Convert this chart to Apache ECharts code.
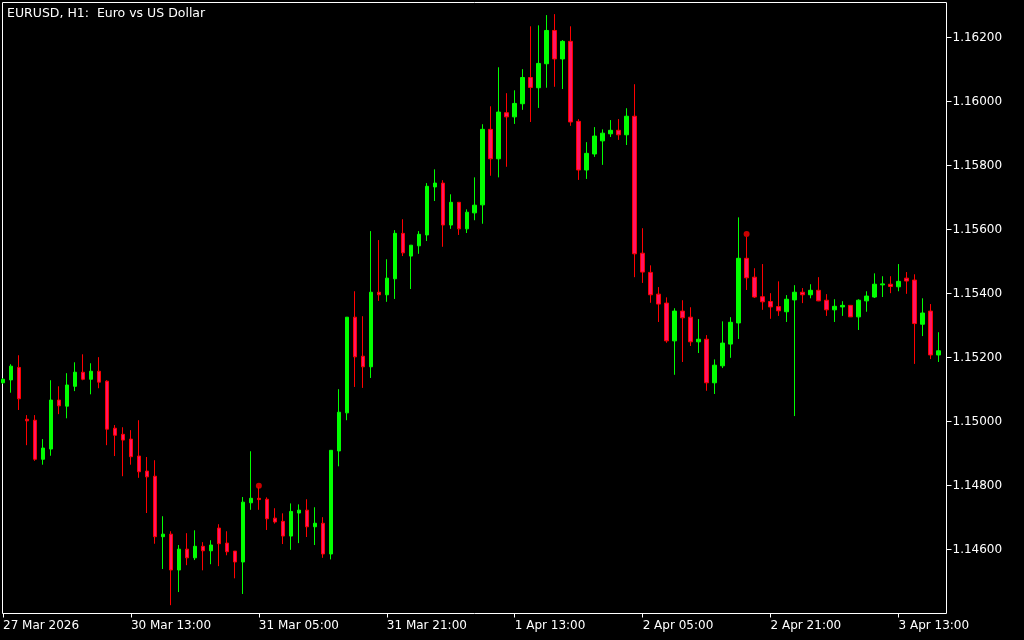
<!DOCTYPE html>
<html>
<head>
<meta charset="utf-8">
<title>EURUSD H1</title>
<script src="https://cdn.jsdelivr.net/npm/echarts@6.0.0/dist/echarts.min.js"></script>
<style>
  html, body { margin: 0; padding: 0; background: #000; }
  .kline { width: 1024px; height: 640px; }
</style>
</head>
<body>
<div class="kline"></div>
<script>
// EURUSD H1 bars, 27 Mar 2026 21:00 .. 3 Apr 2026 18:00
var opens = [
  1.15121, 1.15130, 1.15169, 1.15007, 1.15004, 1.14882, 1.14914, 1.15067, 1.15048, 1.15110,
  1.15154, 1.15132, 1.15157, 1.15126, 1.14979, 1.14960, 1.14945, 1.14892, 1.14845, 1.14829,
  1.14640, 1.14648, 1.14536, 1.14601, 1.14574, 1.14610, 1.14596, 1.14667, 1.14620, 1.14595,
  1.14561, 1.14746, 1.14760, 1.14757, 1.14698, 1.14688, 1.14642, 1.14714, 1.14723, 1.14671,
  1.14682, 1.14586, 1.14908, 1.15027, 1.15326, 1.15204, 1.15171, 1.15404, 1.15396, 1.15446,
  1.15588, 1.15517, 1.15549, 1.15583, 1.15733, 1.15745, 1.15614, 1.15685, 1.15602, 1.15652,
  1.15677, 1.15913, 1.15821, 1.15965, 1.15952, 1.15993, 1.16075, 1.16043, 1.16118, 1.16222,
  1.16133, 1.16188, 1.15938, 1.15786, 1.15836, 1.15877, 1.15899, 1.15910, 1.15896, 1.15954,
  1.15526, 1.15466, 1.15398, 1.15370, 1.15252, 1.15345, 1.15326, 1.15249, 1.15257, 1.15121,
  1.15174, 1.15242, 1.15308, 1.15510, 1.15451, 1.15390, 1.15375, 1.15359, 1.15343, 1.15380,
  1.15404, 1.15396, 1.15410, 1.15379, 1.15349, 1.15358, 1.15363, 1.15327, 1.15377, 1.15389,
  1.15427, 1.15429, 1.15421, 1.15448, 1.15442, 1.15304, 1.15345, 1.15208
];
var highs = [
  1.15135, 1.15179, 1.15207, 1.15020, 1.15020, 1.14945, 1.15129, 1.15110, 1.15151, 1.15185,
  1.15210, 1.15182, 1.15201, 1.15129, 1.14989, 1.14982, 1.14973, 1.15004, 1.14889, 1.14879,
  1.14704, 1.14657, 1.14614, 1.14651, 1.14660, 1.14623, 1.14629, 1.14679, 1.14657, 1.14595,
  1.14764, 1.14907, 1.14795, 1.14763, 1.14729, 1.14713, 1.14744, 1.14741, 1.14757, 1.14732,
  1.14701, 1.14910, 1.15101, 1.15326, 1.15407, 1.15329, 1.15595, 1.15567, 1.15507, 1.15598,
  1.15632, 1.15551, 1.15595, 1.15745, 1.15788, 1.15754, 1.15710, 1.15685, 1.15663, 1.15763,
  1.15929, 1.15985, 1.16107, 1.16026, 1.16035, 1.16101, 1.16235, 1.16238, 1.16270, 1.16273,
  1.16192, 1.16235, 1.15945, 1.15873, 1.15920, 1.15913, 1.15942, 1.15945, 1.15979, 1.16054,
  1.15604, 1.15488, 1.15420, 1.15388, 1.15354, 1.15379, 1.15357, 1.15320, 1.15270, 1.15194,
  1.15313, 1.15326, 1.15638, 1.15577, 1.15479, 1.15492, 1.15401, 1.15438, 1.15395, 1.15426,
  1.15417, 1.15429, 1.15451, 1.15398, 1.15382, 1.15376, 1.15363, 1.15382, 1.15407, 1.15463,
  1.15454, 1.15454, 1.15492, 1.15467, 1.15460, 1.15385, 1.15367, 1.15279
];
var lows = [
  1.15118, 1.15090, 1.15036, 1.14926, 1.14877, 1.14865, 1.14893, 1.15023, 1.15010, 1.15095,
  1.15129, 1.15085, 1.15104, 1.14926, 1.14892, 1.14829, 1.14865, 1.14824, 1.14714, 1.14618,
  1.14539, 1.14426, 1.14467, 1.14551, 1.14567, 1.14535, 1.14554, 1.14548, 1.14582, 1.14510,
  1.14461, 1.14724, 1.14724, 1.14661, 1.14681, 1.14617, 1.14599, 1.14620, 1.14639, 1.14614,
  1.14574, 1.14569, 1.14860, 1.15004, 1.15108, 1.15105, 1.15136, 1.15377, 1.15374, 1.15383,
  1.15517, 1.15414, 1.15524, 1.15564, 1.15689, 1.15546, 1.15602, 1.15583, 1.15589, 1.15629,
  1.15618, 1.15768, 1.15763, 1.15796, 1.15930, 1.15974, 1.15936, 1.15980, 1.16043, 1.16046,
  1.16039, 1.15924, 1.15755, 1.15758, 1.15827, 1.15802, 1.15889, 1.15880, 1.15864, 1.15451,
  1.15433, 1.15371, 1.15311, 1.15246, 1.15146, 1.15186, 1.15236, 1.15214, 1.15096, 1.15086,
  1.15167, 1.15199, 1.15258, 1.15411, 1.15386, 1.15349, 1.15321, 1.15330, 1.15311, 1.15017,
  1.15370, 1.15385, 1.15376, 1.15330, 1.15311, 1.15330, 1.15327, 1.15286, 1.15343, 1.15386,
  1.15389, 1.15401, 1.15407, 1.15399, 1.15180, 1.15267, 1.15195, 1.15186
];
var closes = [
  1.15132, 1.15173, 1.15071, 1.15002, 1.14882, 1.14917, 1.15067, 1.15049, 1.15114, 1.15154,
  1.15132, 1.15157, 1.15123, 1.14976, 1.14957, 1.14942, 1.14890, 1.14843, 1.14827, 1.14640,
  1.14648, 1.14536, 1.14601, 1.14574, 1.14610, 1.14596, 1.14614, 1.14618, 1.14593, 1.14561,
  1.14748, 1.14760, 1.14756, 1.14696, 1.14686, 1.14642, 1.14719, 1.14723, 1.14671, 1.14682,
  1.14586, 1.14910, 1.15029, 1.15326, 1.15202, 1.15171, 1.15404, 1.15396, 1.15448, 1.15588,
  1.15527, 1.15551, 1.15585, 1.15735, 1.15745, 1.15614, 1.15685, 1.15602, 1.15654, 1.15676,
  1.15913, 1.15821, 1.15967, 1.15952, 1.15994, 1.16075, 1.16044, 1.16119, 1.16222, 1.16133,
  1.16188, 1.15936, 1.15786, 1.15838, 1.15892, 1.15901, 1.15910, 1.15896, 1.15954, 1.15524,
  1.15467, 1.15396, 1.15367, 1.15252, 1.15345, 1.15324, 1.15249, 1.15257, 1.15121, 1.15176,
  1.15245, 1.15310, 1.15510, 1.15449, 1.15389, 1.15374, 1.15358, 1.15346, 1.15382, 1.15404,
  1.15396, 1.15410, 1.15377, 1.15349, 1.15360, 1.15363, 1.15327, 1.15379, 1.15392, 1.15429,
  1.15430, 1.15422, 1.15438, 1.15439, 1.15306, 1.15339, 1.15208, 1.15221
];
// time labels, one every 16 bars
var tickLabels = ['27 Mar 2026', '30 Mar 13:00', '31 Mar 05:00', '31 Mar 21:00',
  '1 Apr 13:00', '2 Apr 05:00', '2 Apr 21:00', '3 Apr 13:00'];
var priceTicks = [1.146, 1.148, 1.150, 1.152, 1.154, 1.156, 1.158, 1.160, 1.162];
// red trade marks above two bars
var markBars = [32, 93];
var markPrices = [1.14799, 1.15586];

(function() {
  // 1. 实例化对象
  var myChart = echarts.init(document.querySelector(".kline"));

  var cats = [];
  var kdata = [];
  for (var i = 0; i < opens.length; i++) {
    cats.push(String(i));
    kdata.push([opens[i], closes[i], lows[i], highs[i]]);
  }
  var marks = [];
  for (var j = 0; j < markBars.length; j++) {
    marks.push([markBars[j], markPrices[j]]);
  }

  var font = "DejaVu Sans";
  // 2. 指定配置项和数据
  var option = {
    backgroundColor: "#000",
    animation: false,
    title: {
      text: "EURUSD, H1:  Euro vs US Dollar",
      left: 7,
      top: 7,
      padding: 0,
      textStyle: { color: "#fff", fontSize: 12.5, fontWeight: "normal", fontFamily: font }
    },
    grid: [
      // candles
      { left: 2.5, right: 85.5, top: 2.5, bottom: 26.5 },
      // white frame
      { left: 2.5, right: 77.5, top: 2.5, bottom: 26.5, show: true,
        borderColor: "#fff", borderWidth: 1, backgroundColor: "transparent" }
    ],
    xAxis: [
      {
        type: "category",
        gridIndex: 0,
        data: cats,
        boundaryGap: false,
        axisLine: { show: false },
        axisTick: { show: true, interval: 15, length: 4, lineStyle: { color: "#fff" } },
        axisLabel: {
          interval: 15,
          align: "left",
          margin: 6,
          color: "#fff",
          fontSize: 12,
          fontFamily: font,
          formatter: function(v, idx) { return tickLabels[idx / 16] || ""; }
        },
        splitLine: { show: false }
      },
      { type: "value", gridIndex: 1, show: false }
    ],
    yAxis: [
      {
        type: "value",
        gridIndex: 0,
        position: "right",
        offset: 8,
        min: 1.144,
        max: 1.163094,
        scale: true,
        axisLine: { show: false },
        axisTick: { show: true, length: 5, lineStyle: { color: "#fff" }, customValues: priceTicks },
        axisLabel: {
          margin: 6,
          color: "#fff",
          fontSize: 12,
          fontFamily: font,
          customValues: priceTicks,
          formatter: function(v) { return v.toFixed(5); }
        },
        splitLine: { show: false }
      },
      { type: "value", gridIndex: 1, show: false }
    ],
    series: [
      {
        type: "candlestick",
        xAxisIndex: 0,
        yAxisIndex: 0,
        barWidth: 4,
        data: kdata,
        itemStyle: {
          color: "#00ff00",
          color0: "#ff1464",
          borderColor: "#00ff00",
          borderColor0: "#ff0000",
          borderColorDoji: "#00ff00",
          borderWidth: 1
        }
      },
      {
        type: "scatter",
        xAxisIndex: 0,
        yAxisIndex: 0,
        symbol: "circle",
        symbolSize: 6,
        data: marks,
        itemStyle: { color: "#ff0000" }
      }
    ]
  };
  // 3. 配置项和数据给我们的实例化对象
  myChart.setOption(option);
  // 4. 当我们浏览器缩放的时候，图表也等比例缩放
  window.addEventListener("resize", function() {
    myChart.resize();
  });
})();
</script>
</body>
</html>
